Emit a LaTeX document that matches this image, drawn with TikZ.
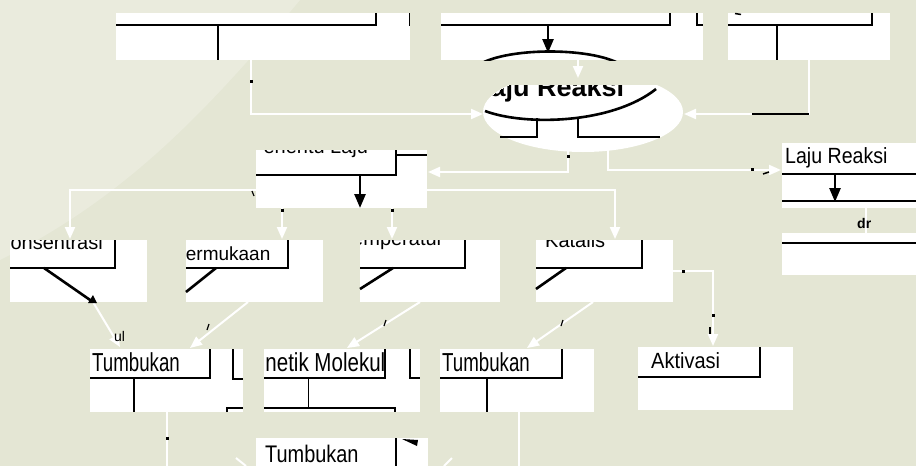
\documentclass[tikz,border=0pt]{standalone}
\usepackage{fontspec}
\setmainfont{Liberation Sans}
\usetikzlibrary{arrows.meta}
\definecolor{bg}{RGB}{228,230,212}
\definecolor{bgl}{RGB}{238,239,228}
\definecolor{thin}{RGB}{150,150,150}
\begin{document}
\begin{tikzpicture}[x=1pt,y=-1pt,
  wbox/.style={fill=white, draw=none, inner sep=0pt, outer sep=0pt, anchor=north west},
  bl/.style={line width=2.6pt, black},
  thinl/.style={line width=1pt, thin},
  wl/.style={line width=2pt, white},
  warr/.style={wl, -{Triangle[length=12pt,width=10pt]}},
  barr/.style={bl, -{Triangle[length=14pt,width=11pt]}},
  txt/.style={anchor=base west, inner sep=0pt, font=\fontsize{20}{20}\selectfont},
  dot/.style={fill=black, inner sep=0pt, minimum size=3pt},
]
\fill[bg] (0,0) rectangle (916,466);
\useasboundingbox (0,0) rectangle (916,466);
\fill[bgl,opacity=.6] (0,0) -- (300,0) .. controls (200,120) and (120,200) .. (0,260) -- cycle;

% ---------- ellipse (Laju Reaksi) ----------
\coordinate (E) at (583,112);
\begin{scope}
  \clip (0,85) rectangle (916,466);
  \fill[white] (E) ellipse [x radius=100pt, y radius=40pt];
  \begin{scope}
    \clip (E) ellipse [x radius=100pt, y radius=40pt];
    \node[txt, font=\fontsize{27}{27}\selectfont\bfseries] (tE) at (474,96) {Laju Reaksi};
  \end{scope}
  \draw[bl] (485,111) .. controls (525,126) and (612,124) .. (656,89);
\end{scope}
\draw[bl] (537,118) -- (537,137) -- (500,137);
\draw[bl] (578,119) -- (578,137) -- (660,137);

% ---------- boxes ----------
\node[wbox,minimum width=294pt,minimum height=47pt] (A) at (116,13) {};
\node[wbox,minimum width=262pt,minimum height=47pt] (B) at (441,13) {};
\node[wbox,minimum width=162pt,minimum height=47pt] (C) at (728,13) {};
\node[wbox,minimum width=171pt,minimum height=58pt] (D) at (256,150) {};
\node[wbox,minimum width=134pt,minimum height=65pt] (R) at (782,143) {};
\node[wbox,minimum width=134pt,minimum height=42pt] (R2) at (782,233) {};
\node[wbox,minimum width=137pt,minimum height=62pt] (K) at (10,240) {};
\node[wbox,minimum width=137pt,minimum height=62pt] (P) at (186,240) {};
\node[wbox,minimum width=140pt,minimum height=62pt] (T) at (360,240) {};
\node[wbox,minimum width=137pt,minimum height=62pt] (Ka) at (536,240) {};
\node[wbox,minimum width=153pt,minimum height=63pt] (T1) at (90,349) {};
\node[wbox,minimum width=156pt,minimum height=63pt] (KM) at (264,349) {};
\node[wbox,minimum width=154pt,minimum height=63pt] (T3) at (440,349) {};
\node[wbox,minimum width=155pt,minimum height=63pt] (Ak) at (638,347) {};
\node[wbox,minimum width=172pt,minimum height=28pt] (TB) at (256,438) {};

% ---------- box A ----------
\draw[bl] (116,25) -- (376,25) -- (376,13);
\draw[bl] (218,25) -- (218,60);
\draw[thinl] (409,13) -- (409,26);
% ---------- box B ----------
\draw[bl] (441,25) -- (670,25) -- (670,13);
\draw[bl] (697,13) -- (697,25) -- (703,25);
\draw[barr] (548,25) -- (548,53);
\begin{scope}
  \clip (B.north west) rectangle (B.south east);
  \draw[bl] (484,62) .. controls (515,48) and (585,48) .. (616,62);
\end{scope}
% ---------- box C ----------
\draw[bl] (728,25) -- (872,25) -- (872,13);
\draw[bl] (777,25) -- (777,60);
\draw[line width=1.5pt] (735,13.5) -- (741,14.5);

% ---------- Penentu Laju ----------
\begin{scope}
  \clip (D.north west) rectangle (D.south east);
  \node[txt] (tD) at (250,153) {Penentu Laju};
\end{scope}
\draw[bl] (256,175) -- (396,175) -- (396,150);
\draw[bl] (396,155) -- (427,155);
\draw[barr] (360,175) -- (360,208);

% ---------- Laju Reaksi (right) ----------
\node[txt, font=\fontsize{22}{22}\selectfont, xscale=.89] (tR) at (785,163) {Laju Reaksi};
\draw[bl] (782,174) -- (916,174);
\draw[barr] (835,174) -- (835,202);
\draw[bl] (782,201) -- (916,201);
\draw[bl] (782,243) -- (916,243);
\draw[wl] (866,208) -- (866,233);
\node[txt, font=\fontsize{14}{14}\selectfont\bfseries] (tdr) at (857,228) {dr};

% ---------- factor boxes ----------
\begin{scope}
  \clip (K.north west) rectangle (K.south east);
  \node[txt] (tK) at (-3,249) {Konsentrasi};
\end{scope}
\draw[bl] (10,268) -- (115,268) -- (115,240);
\draw[bl] (44,268) -- (93,302);

\begin{scope}
  \clip (P.north west) rectangle (P.south east);
  \node[txt, font=\fontsize{19}{19}\selectfont] (tP) at (173,260) {Permukaan};
\end{scope}
\draw[bl] (186,268) -- (288,268) -- (288,240);
\draw[bl] (216,268) -- (186,292);

\begin{scope}
  \clip (T.north west) rectangle (T.south east);
  \node[txt] (tT) at (342,245) {Temperatur};
\end{scope}
\draw[bl] (360,268) -- (465,268) -- (465,240);
\draw[bl] (393,268) -- (360,289);

\begin{scope}
  \clip (Ka.north west) rectangle (Ka.south east);
  \node[txt] (tKa) at (545,247) {Katalis};
\end{scope}
\draw[bl] (536,268) -- (642,268) -- (642,240);
\draw[bl] (566,268) -- (536,289);

% ---------- third row ----------
\node[txt, font=\fontsize{26}{26}\selectfont, xscale=.72] (tT1) at (92,371) {Tumbukan};
\draw[bl] (90,378) -- (210,378) -- (210,349);
\draw[bl] (134,378) -- (134,412);
\draw[bl] (233,349) -- (233,379) -- (243,379);
\draw[bl] (227,412) -- (227,408) -- (243,408);

\begin{scope}
  \clip (KM.north west) rectangle (KM.south east);
  \node[txt, font=\fontsize{26}{26}\selectfont, xscale=.79] (tKM) at (247,371) {Kinetik Molekul};
\end{scope}
\draw[bl] (264,378) -- (385,378) -- (385,349);
\draw[thinl] (308,378) -- (308,408);
\draw[bl] (410,349) -- (410,378) -- (420,378);
\draw[bl] (264,408) -- (395,408) -- (395,412);

\node[txt, font=\fontsize{26}{26}\selectfont, xscale=.72] (tT3) at (442,371) {Tumbukan};
\draw[bl] (440,378) -- (562,378) -- (562,349);
\draw[bl] (487,378) -- (487,412);

\node[txt, font=\fontsize{22}{22}\selectfont, xscale=.91] (tAk) at (651,368) {Aktivasi};
\draw[bl] (638,377) -- (760,377) -- (760,347);

% ---------- bottom box ----------
\node[txt, font=\fontsize{24}{24}\selectfont, xscale=.83] (tTB) at (265,462) {Tumbukan};
\draw[bl] (396,438) -- (396,466);
\fill (402,439) -- (418,440) -- (417,446) -- cycle;

% ---------- white connectors ----------
\coordinate (a1) at (251,60);  \coordinate (a2) at (251,114); \coordinate (eL) at (483,114);
\draw[warr] (a1) -- (a2) -- (eL);
\coordinate (c1) at (809,60);  \coordinate (c2) at (809,114); \coordinate (eR) at (684,114);
\draw[warr] (c1) -- (c2) -- (eR);
\draw[line width=1.6pt] (752,114) -- (809,114);
\coordinate (b1) at (578,60);  \coordinate (eT) at (578,78);
\draw[warr] (b1) -- (eT);
\coordinate (e1) at (568,151); \coordinate (e2) at (568,172); \coordinate (d1) at (428,172);
\draw[warr] (e1) -- (e2) -- (d1);
\coordinate (e3) at (608,150); \coordinate (e4) at (608,170); \coordinate (r1) at (781,170);
\draw[warr] (e3) -- (e4) -- (r1);
% bus
\coordinate (dL) at (256,190); \coordinate (bL) at (70,190); \coordinate (kT) at (70,239);
\draw[warr] (dL) -- (bL) -- (kT);
\coordinate (dR) at (427,190); \coordinate (bR) at (615,190); \coordinate (kaT) at (615,239);
\draw[warr] (dR) -- (bR) -- (kaT);
\coordinate (d2) at (282,208); \coordinate (pT) at (282,239);
\draw[warr] (d2) -- (pT);
\coordinate (d3) at (392,208); \coordinate (tTop) at (392,239);
\draw[warr] (d3) -- (tTop);
% factors to third row
\coordinate (k1) at (93,302);  \coordinate (t1a) at (120,347);
\draw[warr] (k1) -- (t1a);
\coordinate (p1) at (248,302); \coordinate (t1b) at (190,348);
\draw[warr] (p1) -- (t1b);
\coordinate (tm1) at (420,302); \coordinate (km1) at (347,348);
\draw[warr] (tm1) -- (km1);
\coordinate (ka1) at (593,302); \coordinate (t3a) at (527,348);
\draw[warr] (ka1) -- (t3a);
\coordinate (ka2) at (673,271); \coordinate (ka3) at (713,271); \coordinate (akT) at (713,346);
\draw[warr] (ka2) -- (ka3) -- (akT);
% down to bottom
\coordinate (t1c) at (167,412); \coordinate (t1d) at (167,466);
\draw[wl] (t1c) -- (t1d);
\coordinate (t3c) at (519,412); \coordinate (t3d) at (519,466);
\draw[wl] (t3c) -- (t3d);
\draw[wl] (236,458) -- (246,466);
\draw[wl] (452,458) -- (444,466);

% ---------- fragments and dots ----------
\fill (88,303) -- (93,295) -- (97,303) -- cycle;
\node[txt, font=\fontsize{14}{14}\selectfont] (frag) at (114,341) {ul};
\node[dot] (m1) at (251,81) {};
\node[dot] (m2) at (568,156) {};
\node[dot] (m3) at (752,169) {};
\node[dot] (m4) at (282,210) {};
\node[dot] (m5) at (392,210) {};
\node[dot] (m6) at (683,271) {};
\node[dot] (m7) at (713,315) {};
\node[dot] (m8) at (167,438) {};
\draw[line width=1.2pt] (252,191) -- (254,196);
\draw[line width=1.5pt] (763,174) -- (769,172);
\draw[line width=1.2pt] (209,324) -- (207,330);
\draw[line width=1.2pt] (386,320) -- (384,326);
\draw[line width=1.2pt] (563,320) -- (561,326);
\draw[line width=1.2pt] (710,327) -- (710,334);
\end{tikzpicture}
\end{document}
